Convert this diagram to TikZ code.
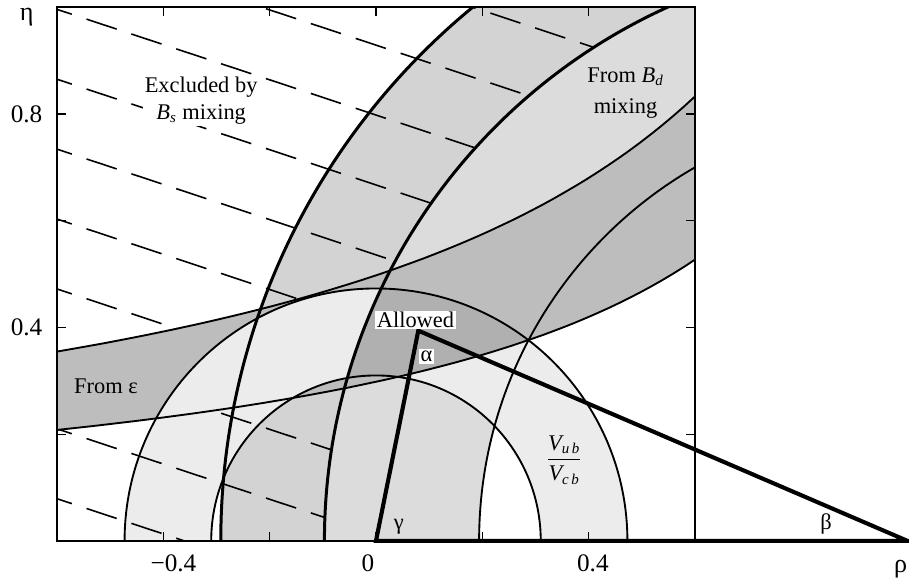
\documentclass[tikz,border=0pt]{standalone}
\usepackage{fontspec}
\usepackage{amsmath}
\setmainfont{Liberation Serif}
\definecolor{bandL}{gray}{0.827}
\definecolor{bandR}{gray}{0.863}
\definecolor{bandE}{gray}{0.741}
\definecolor{bandV}{gray}{0.925}
\definecolor{allowedfill}{gray}{0.69}
\tikzset{
  bound/.style={line width=1pt},
  thickbound/.style={line width=1.6pt},
  hatch/.style={line width=0.85pt, dash pattern=on 17pt off 8.3pt},
  tickmark/.style={line width=0.6pt},
  tri/.style={line width=2.2pt, line join=miter},
  lab/.style={font=\fontsize{12}{14.3}\selectfont, inner sep=0pt, align=center},
  ticklab/.style={font=\fontsize{13.5}{16}\selectfont, inner sep=0pt},
}
\begin{document}
\begin{tikzpicture}[x=10cm, y=10.04cm,
    declare function={epsup(\x)=0.742/(1.491-\x); epslo(\x)=0.4123/(1.3824-\x);}]
    \useasboundingbox (-0.7074,-0.0731) rectangle (1.0028,1.0136);

    \begin{scope}
        \clip (-0.6,0) rectangle (0.6,1);
        \fill[bandL] (1,0) circle[radius=1.292];
        \fill[bandR] (1,0) circle[radius=1.097];
        \fill[white] (1,0) circle[radius=0.806];
        \fill[bandE] plot[domain=-0.6:0.6, samples=60] (\x,{epsup(\x)})
            -- plot[domain=0.6:-0.6, samples=60] (\x,{epslo(\x)}) -- cycle;
        \fill[bandV, even odd rule] (0,0) circle[radius=0.473] (0,0) circle[radius=0.31];
        \begin{scope}
            \clip plot[domain=-0.6:0.6, samples=60] (\x,{epsup(\x)})
                -- plot[domain=0.6:-0.6, samples=60] (\x,{epslo(\x)}) -- cycle;
            \clip (1,0) circle[radius=1.097];
            \fill[allowedfill, even odd rule] (0,0) circle[radius=0.473] (0,0) circle[radius=0.31];
        \end{scope}

        % excluded by B_s mixing
        \begin{scope}
            \clip (-0.6,0) -- (-0.097,0) arc[start angle=180, end angle=114, radius=1.097]
                -- (-0.6,1.1) -- cycle;
            \begin{scope}
                \clip (-0.6,1.1) -- plot[domain=-0.6:0.6, samples=60] (\x,{epsup(\x)}) -- (0.6,1.1) -- cycle;
                \foreach \k in {-3,...,7}
                    \draw[hatch] (-0.629,{0.996-0.131*\k+0.33*0.029}) -- (0.6,{0.996-0.131*\k-0.33*1.2});
            \end{scope}
            \begin{scope}
                \clip (-0.6,0) -- plot[domain=-0.6:0.6, samples=60] (\x,{epslo(\x)}) -- (0.6,0) -- cycle;
                \foreach \k in {-3,...,7}
                    \draw[hatch] (-0.629,{0.996-0.131*\k+0.33*0.029}) -- (0.6,{0.996-0.131*\k-0.33*1.2});
            \end{scope}
        \end{scope}

        \draw[thickbound] (1,0) circle[radius=1.292];
        \draw[thickbound] (1,0) circle[radius=1.097];
        \draw[bound] (1,0) circle[radius=0.806];
        \draw[bound] (0,0) circle[radius=0.473];
        \draw[bound] (0,0) circle[radius=0.31];
        \draw[bound] plot[domain=-0.6:0.6, samples=60] (\x,{epsup(\x)});
        \draw[bound] plot[domain=-0.6:0.6, samples=60] (\x,{epslo(\x)});
    \end{scope}

    \draw[line width=0.9pt] (-0.6,0) rectangle (0.6,1);
    \foreach \r in {-0.4,-0.2,0,0.2,0.4} {
        \draw[tickmark] (\r,0) -- (\r,0.016);
        \draw[tickmark] (\r,1) -- (\r,0.984);
    }
    \foreach \e in {0.2,0.4,0.6,0.8} {
        \draw[tickmark] (-0.6,\e) -- (-0.584,\e);
        \draw[tickmark] (0.6,\e) -- (0.584,\e);
    }

    \coordinate (gam) at (0,0);
    \coordinate (alp) at (0.0796,0.394);
    \coordinate (bet) at (1,0);
    \draw[tri] (gam) -- (alp) -- (bet) -- cycle;

    \node[ticklab] (xm4) at (-0.381,-0.042) {−0.4};
    \node[ticklab] (x0) at (-0.015,-0.042) {0};
    \node[ticklab] (x4) at (0.408,-0.042) {0.4};
    \node[ticklab, anchor=east] (y4) at (-0.627,0.401) {0.4};
    \node[ticklab, anchor=east] (y8) at (-0.627,0.800) {0.8};
    \node[font=\fontsize{14}{16}\selectfont, inner sep=0pt] (etalab) at (-0.657,0.982) {η};
    \node[font=\fontsize{14}{16}\selectfont, inner sep=0pt, anchor=east] (rholab) at (1.0,-0.0525) {ρ};

    \node[lab, fill=white, inner sep=1pt] (bslab) at (-0.329,0.825) {Excluded by\\$\textit{B}_{\textit{s}}$ mixing};
    \node[lab, font=\fontsize{12}{17}\selectfont] (bdlab) at (0.4695,0.839) {From $\textit{B}_{\textit{d}}$\\mixing};
    \node[lab] (epslab) at (-0.508,0.29) {From ε};
    \node[lab, fill=white, inner sep=0.8pt] (allowlab) at (0.0743,0.414) {Allowed};
    \node[lab, fill=white, inner sep=1pt] (alab) at (0.095,0.3457) {α};
    \node[lab] (glab) at (0.043,0.026) {γ};
    \node[lab] (blab) at (0.847,0.032) {β};
    \node[lab] (vlab) at (0.354,0.152) {$\dfrac{\textit{V}_{\textit{u\,b}}}{\textit{V}_{\textit{c\,b}}}$};
\end{tikzpicture}
\end{document}
